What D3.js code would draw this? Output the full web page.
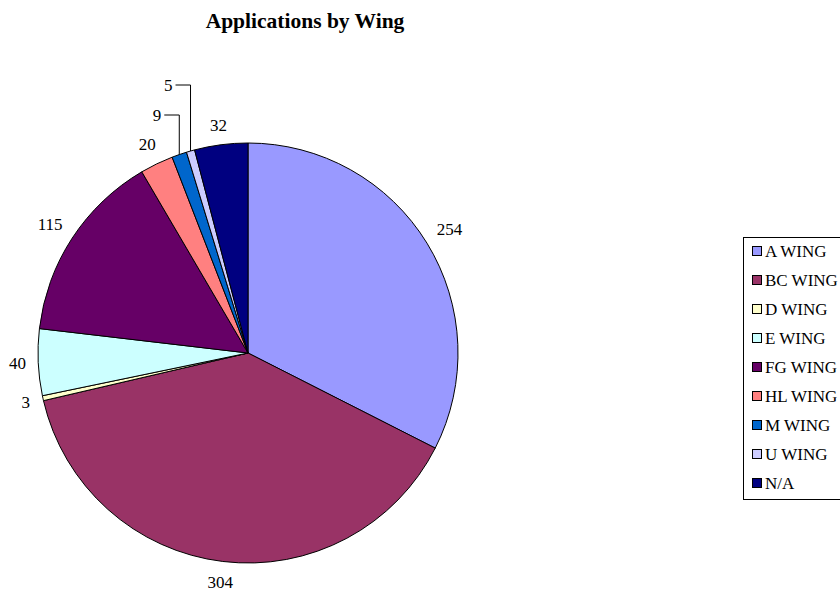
<!DOCTYPE html>
<html>
<head>
<meta charset="utf-8">
<script src="https://cdn.jsdelivr.net/npm/d3@7/dist/d3.min.js"></script>
<style>
  body { margin: 0; background: #fff; }
</style>
</head>
<body>
<div id="chart"></div>
<script>
// chart data
var wings  = ["A WING", "BC WING", "D WING", "E WING", "FG WING", "HL WING", "M WING", "U WING", "N/A"];
var counts = [254, 304, 3, 40, 115, 20, 9, 5, 32];
var colors = ["#9999FF", "#993366", "#FFFFCC", "#CCFFFF", "#660066", "#FF8080", "#0066CC", "#CCCCFF", "#000080"];
// labels that were dragged out with a leader line: extra lift above the pie
var leaderLift = { "M WING": 28, "U WING": 58 };

var width = 840, height = 594;
var cx = 248, cy = 353, radius = 210;
var serif = "'Liberation Serif', 'Times New Roman', serif";

var svg = d3.select("#chart").append("svg")
  .attr("width", width)
  .attr("height", height);

svg.append("text")
  .attr("x", 305)
  .attr("y", 28)
  .attr("text-anchor", "middle")
  .attr("font-family", serif)
  .attr("font-weight", "bold")
  .attr("font-size", 21.5)
  .text("Applications by Wing");

var data = wings.map((w, i) => ({ name: w, value: counts[i], color: colors[i] }));

var pie = d3.pie().sort(null).value((d) => d.value);
var arc = d3.arc().innerRadius(0).outerRadius(radius);
var arcs = pie(data);

var g = svg.append("g").attr("transform", "translate(" + cx + "," + cy + ")");

g.selectAll("path.slice")
  .data(arcs).enter()
  .append("path")
  .attr("class", "slice")
  .attr("d", arc)
  .attr("fill", (d) => d.data.color)
  .attr("stroke", "#000")
  .attr("stroke-width", 1);

// labels
var fontSize = 17, gap = 12;
arcs.forEach(function(d) {
  var mid = (d.startAngle + d.endAngle) / 2;
  var sx = Math.sin(mid), sy = -Math.cos(mid);
  var txt = String(d.data.value);
  var w = txt.length * fontSize * 0.5, h = fontSize * 0.8;
  var lift = leaderLift[d.data.name];
  if (lift !== undefined) {
    var px = radius * sx, py = radius * sy;
    var ly = -(radius + lift);
    var ex = px - 15;
    g.append("path")
      .attr("d", "M" + px + "," + py + "V" + ly + "H" + ex)
      .attr("fill", "none")
      .attr("stroke", "#000")
      .attr("stroke-width", 1);
    g.append("text")
      .attr("x", ex - 3)
      .attr("y", ly)
      .attr("dy", "0.35em")
      .attr("text-anchor", "end")
      .attr("font-family", serif)
      .attr("font-size", fontSize)
      .text(txt);
    return;
  }
  var dist = radius + gap + Math.abs(sx) * w / 2 + Math.abs(sy) * h / 2;
  g.append("text")
    .attr("x", dist * sx)
    .attr("y", dist * sy)
    .attr("dy", "0.35em")
    .attr("text-anchor", "middle")
    .attr("font-family", serif)
    .attr("font-size", fontSize)
    .text(txt);
});

// legend
var legend = svg.append("g").attr("transform", "translate(743,237)");
var rowH = 29;
legend.append("rect")
  .attr("x", 0.5).attr("y", 0.5)
  .attr("width", 120).attr("height", 262)
  .attr("fill", "#fff")
  .attr("stroke", "#000")
  .attr("stroke-width", 1);

var item = legend.selectAll("g.item")
  .data(data).enter()
  .append("g")
  .attr("class", "item")
  .attr("transform", (d, i) => "translate(0," + (14 + i * rowH) + ")");

item.append("rect")
  .attr("x", 9.5).attr("y", -4.5)
  .attr("width", 9).attr("height", 9)
  .attr("fill", (d) => d.color)
  .attr("stroke", "#000")
  .attr("stroke-width", 1);

item.append("text")
  .attr("x", 22)
  .attr("y", 0)
  .attr("dy", "0.35em")
  .attr("font-family", serif)
  .attr("font-size", fontSize)
  .text((d) => d.name);
</script>
</body>
</html>
